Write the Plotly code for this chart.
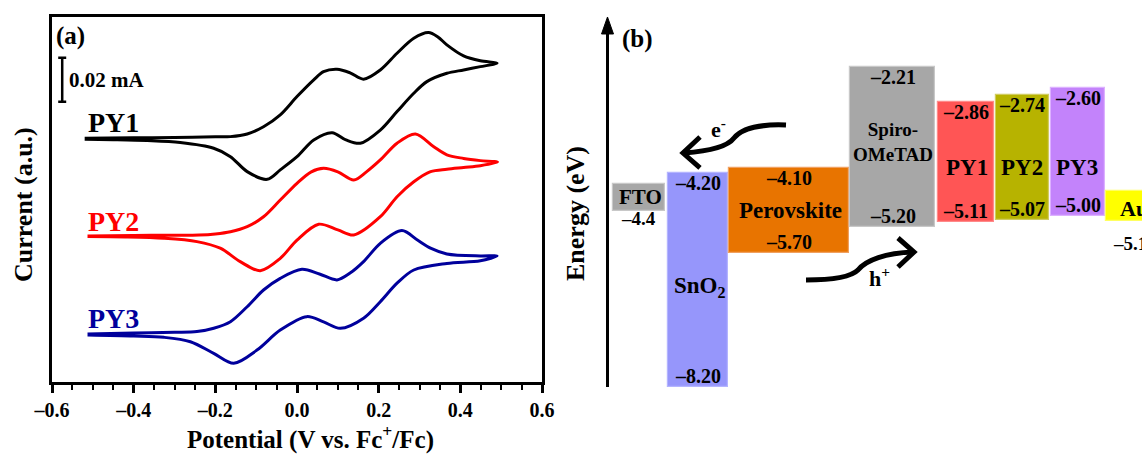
import plotly.graph_objects as go

W, H = 1142, 456
FONT = "Liberation Serif"

# ---------------- panel (a): cyclic voltammograms ----------------
# potential (V vs. Fc+/Fc) and current (µA, curves offset for display)
py1_v = [-0.52, -0.40, -0.30, -0.20, -0.163, -0.122, -0.082, -0.041, 0.0, 0.041, 0.065, 0.098, 0.13, 0.163,
         0.204, 0.245, 0.286, 0.322, 0.345, 0.367, 0.408, 0.449, 0.49,
         0.449, 0.408, 0.367, 0.318, 0.286, 0.245, 0.204, 0.155, 0.12, 0.086, 0.041, 0.0, -0.041, -0.073,
         -0.122, -0.163, -0.204, -0.286, -0.367, -0.45, -0.52]
py1_i = [110.8, 111.0, 111.1, 111.4, 111.5, 112.7, 116.0, 121.4, 129.7, 137.3, 141.0, 142.1, 140.5, 137.6,
         141.8, 149.4, 156.2, 158.8, 156.8, 153.2, 148.2, 146.0, 144.9,
         143.3, 141.8, 140.3, 136.5, 131.2, 122.9, 114.5, 108.5, 110.0, 113.3, 110.0, 102.4, 96.4, 92.1,
         95.6, 102.4, 106.2, 108.8, 109.7, 110.1, 110.3]

py2_v = [-0.513, -0.40, -0.30, -0.24, -0.20, -0.163, -0.122, -0.082, -0.041, 0.0, 0.035, 0.065, 0.10, 0.139,
         0.17, 0.204, 0.245, 0.29, 0.335, 0.367, 0.408, 0.449, 0.491,
         0.449, 0.408, 0.367, 0.327, 0.286, 0.245, 0.204, 0.139, 0.10, 0.053, 0.0, -0.041, -0.09, -0.139,
         -0.188, -0.245, -0.326, -0.42, -0.513]
py2_i = [66.4, 66.6, 66.7, 66.8, 67.3, 68.3, 70.6, 75.1, 82.7, 90.3, 95.5, 97.1, 95.5, 91.8,
         95.5, 100.9, 108.5, 112.7, 106.9, 103.2, 101.6, 100.6, 99.9,
         98.3, 97.5, 96.7, 95.6, 91.0, 84.2, 75.1, 66.8, 69.1, 71.7, 64.5, 56.2, 50.6, 54.7,
         60.8, 63.8, 65.3, 65.9, 66.1]

py3_v = [-0.513, -0.40, -0.30, -0.245, -0.204, -0.163, -0.122, -0.082, -0.041, 0.012, 0.055, 0.098, 0.13,
         0.163, 0.204, 0.257, 0.295, 0.327, 0.367, 0.449, 0.49,
         0.449, 0.367, 0.286, 0.245, 0.204, 0.163, 0.106, 0.065, 0.024, -0.041, -0.098, -0.155, -0.204,
         -0.261, -0.326, -0.40, -0.513]
py3_i = [21.8, 22.3, 22.6, 22.9, 24.4, 27.4, 34.2, 41.8, 47.1, 51.2, 49.1, 46.4, 49.5,
         54.7, 63.0, 68.8, 64.5, 60.8, 58.2, 57.3, 57.3,
         55.1, 53.9, 50.9, 44.9, 36.5, 29.0, 24.4, 27.3, 29.7, 23.6, 14.5, 8.5, 13.0,
         18.3, 20.3, 20.9, 21.4]

x_tickvals = [-0.6, -0.4, -0.2, 0.0, 0.2, 0.4, 0.6]
x_ticktext = ["–0.6", "–0.4", "–0.2", "0.0", "0.2", "0.4", "0.6"]
scale_bar_uA = 20  # 0.02 mA

# ---------------- panel (b): energy levels (eV) ----------------
sc_names = ["SnO<sub>2</sub>", "Perovskite", "Spiro-<br>OMeTAD", "PY1", "PY2", "PY3"]
sc_cb = [-4.20, -4.10, -2.21, -2.86, -2.74, -2.60]
sc_vb = [-8.20, -5.70, -5.20, -5.11, -5.07, -5.00]
el_names = ["FTO", "Au"]
el_wf = [-4.4, -5.1]

# ---------------- styles / layout positions ----------------
sc_colors = ["#9696fb", "#e87400", "#a7a7a7", "#ff5555", "#b7b300", "#c383fb"]
sc_lines = ["#b4b4ff", "#f0a060", "#c8c8c8", "#ff8a8a", "#d0cc60", "#dcb0ff"]
sc_xc = [697.7, 789.0, 892.5, 965.6, 1022.3, 1077.8]
sc_w = [60.2, 120.0, 85.0, 56.1, 52.5, 53.5]
name_px = [(700, 287), (790, 210), (893, 142), (967, 167), (1021.5, 167), (1077, 167)]
name_size = [23, 23, 19, 23, 23, 23]
el_colors = ["#a7a7a7", "#ffff00"]
el_xc = [638.9, 1133.0]
el_w = [52.3, 53.6]
el_thick = [0.5, 0.57]
el_base = [el_wf[0] - el_thick[0], el_wf[1]]

E_RANGE = [-9.497, -0.953]


def px(x, y):
    return x / W, 1 - y / H


def pp(x, y):
    a, b = px(x, y)
    return f"{a:.5f},{b:.5f}"


def bold(t):
    return f"<b>{t}</b>"


fig = go.Figure()

for v, i, c in [(py1_v, py1_i, "#000000"), (py2_v, py2_i, "#ff0000"), (py3_v, py3_i, "#00009c")]:
    fig.add_trace(go.Scatter(x=v, y=i, mode="lines", line=dict(color=c, width=3, shape="spline", smoothing=0.9),
                             xaxis="x", yaxis="y", showlegend=False, hoverinfo="skip"))

# energy-level boxes
fig.add_trace(go.Bar(x=sc_xc, width=sc_w, base=sc_vb, y=[cb - vb for cb, vb in zip(sc_cb, sc_vb)],
                     marker=dict(color=sc_colors, line=dict(color=sc_lines, width=1.2)),
                     xaxis="x2", yaxis="y2", showlegend=False, hoverinfo="skip"))
fig.add_trace(go.Bar(x=el_xc, width=el_w, base=el_base, y=el_thick,
                     marker=dict(color=el_colors, line=dict(color=["#c8c8c8", "#ffff60"], width=1.2)),
                     xaxis="x2", yaxis="y2", showlegend=False, hoverinfo="skip"))

ann = []
shapes = []


def txt(x, y, t, size, color="black", xanchor="center", angle=0):
    a, b = px(x, y)
    ann.append(dict(x=a, y=b, xref="paper", yref="paper", text=bold(t), showarrow=False,
                    font=dict(family=FONT, size=size, color=color), xanchor=xanchor, yanchor="middle",
                    textangle=angle))


# ---- panel (a) texts
txt(70, 36, "(a)", 25)
txt(67, 80, "0.02 mA", 21, xanchor="left")
txt(114, 122, "PY1", 28)
txt(114, 221, "PY2", 28, color="#ff0000")
txt(114, 318, "PY3", 28, color="#00009c")
txt(310, 437, "Potential (V vs. Fc<sup>+</sup>/Fc)", 25)
txt(23, 205, "Current (a.u.)", 26, angle=-90)

# scale bar (0.02 mA)
sb_x = -0.575
sb_y0 = 127.3
shapes.append(dict(type="line", xref="x", yref="y", x0=sb_x, x1=sb_x, y0=sb_y0, y1=sb_y0 + scale_bar_uA,
                   line=dict(color="black", width=2.5)))
for yy in (sb_y0, sb_y0 + scale_bar_uA):
    shapes.append(dict(type="line", xref="x", yref="y", xsizemode="pixel", xanchor=sb_x, x0=-4, x1=4,
                       y0=yy, y1=yy, line=dict(color="black", width=2.5)))

# ---- panel (b) texts
txt(637, 39, "(b)", 25)
txt(575, 214, "Energy (eV)", 26, angle=-90)
for (x, y), n, s in zip(name_px, sc_names, name_size):
    txt(x, y, n, s)
for xc, cb, vb in zip(sc_xc, sc_cb, sc_vb):
    ann.append(dict(x=xc, y=cb, xref="x2", yref="y2", text=bold(f"–{abs(cb):.2f}"), showarrow=False,
                    font=dict(family=FONT, size=20, color="black"), yanchor="middle", yshift=-10))
    ann.append(dict(x=xc, y=vb, xref="x2", yref="y2", text=bold(f"–{abs(vb):.2f}"), showarrow=False,
                    font=dict(family=FONT, size=20, color="black"), yanchor="middle", yshift=11))
txt(640, 197, el_names[0], 21)
txt(638, 218, f"–{abs(el_wf[0]):.1f}", 19)
txt(1118, 209, el_names[1], 22, xanchor="left")
txt(1111, 243, f"–{abs(el_wf[1]):.1f}", 19, xanchor="left")
txt(718, 128, "e<sup>-</sup>", 22)
txt(880, 277, "h<sup>+</sup>", 22)

# energy axis arrow
x0, y0 = px(607.5, 387)
_, y1 = px(607.5, 30)
shapes.append(dict(type="line", xref="paper", yref="paper", x0=x0, x1=x0, y0=y0, y1=y1,
                   line=dict(color="black", width=3)))
shapes.append(dict(type="path", xref="paper", yref="paper",
                   path=f"M{pp(601.5, 34)} L{pp(607.5, 17)} L{pp(613.5, 34)} Z",
                   fillcolor="black", line=dict(color="black", width=1)))

# electron / hole transfer arrows
shapes.append(dict(type="path", xref="paper", yref="paper",
                   path=f"M{pp(786, 125)} C{pp(762, 124)} {pp(742, 128)} {pp(734, 138)} "
                        f"C{pp(728, 146)} {pp(712, 151)} {pp(684, 153)}",
                   line=dict(color="black", width=5)))
shapes.append(dict(type="path", xref="paper", yref="paper",
                   path=f"M{pp(700, 137)} L{pp(683, 153)} L{pp(700, 168)}",
                   line=dict(color="black", width=5)))
shapes.append(dict(type="path", xref="paper", yref="paper",
                   path=f"M{pp(806, 280)} C{pp(830, 280)} {pp(850, 278)} {pp(858, 270)} "
                        f"C{pp(866, 260)} {pp(886, 253)} {pp(913, 252)}",
                   line=dict(color="black", width=5)))
shapes.append(dict(type="path", xref="paper", yref="paper",
                   path=f"M{pp(898, 238)} L{pp(914, 252)} L{pp(898, 267)}",
                   line=dict(color="black", width=5)))

fig.update_layout(
    width=W, height=H, autosize=False,
    margin=dict(l=0, r=0, t=0, b=0, pad=0, autoexpand=False),
    paper_bgcolor="white", plot_bgcolor="rgba(0,0,0,0)",
    font=dict(family=FONT, color="black"),
    barmode="overlay", bargap=0,
    xaxis=dict(domain=[52 / W, 542 / W], range=[-0.6, 0.6], anchor="y", automargin=False,
               showline=True, linecolor="black", linewidth=2.5, mirror=True,
               ticks="outside", ticklen=8, tickwidth=2.5, tickcolor="black",
               tickvals=x_tickvals, ticktext=x_ticktext,
               tickfont=dict(family=FONT, size=20, color="black", weight="bold"),
               minor=dict(tickmode="linear", tick0=-0.6, dtick=0.05, ticks="outside", ticklen=5,
                          tickwidth=2, tickcolor="black", showgrid=False),
               showgrid=False, zeroline=False),
    yaxis=dict(domain=[1 - 382 / H, 1 - 16.7 / H], range=[0, 166], anchor="x", automargin=False,
               showline=True, linecolor="black", linewidth=2.5, mirror=True,
               ticks="", showticklabels=False, showgrid=False, zeroline=False),
    xaxis2=dict(domain=[0.5, 1.0], range=[571, W], anchor="y2", visible=False, automargin=False),
    yaxis2=dict(domain=[0, 1], range=E_RANGE, anchor="x2", visible=False, automargin=False),
    annotations=ann,
    shapes=shapes,
)

fig.write_html("out.html", config={"displayModeBar": False},
               post_script="document.body.style.margin='0';document.body.style.overflow='hidden';")
